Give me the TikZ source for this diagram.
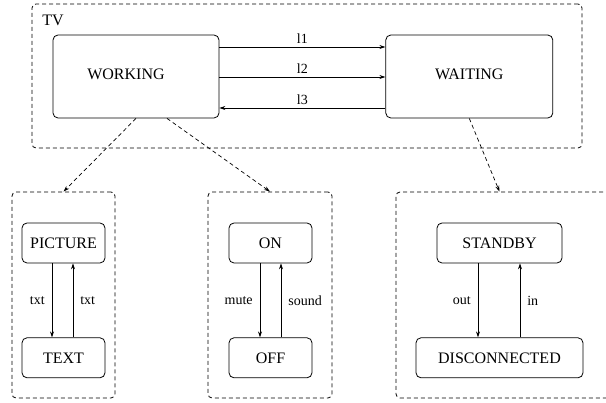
\documentclass[tikz,border=0pt]{standalone}
\usepackage{fontspec}
\setmainfont{Liberation Serif}
\usepackage{tikz}
\usetikzlibrary{positioning,arrows.meta}

\begin{document}
\begin{tikzpicture}[x=1pt,y=-1pt,auto,node distance=74pt,
	state/.style={draw,rounded corners=5pt,line width=0.8pt,minimum height=40pt,font=\rmfamily\fontsize{16}{19}\selectfont},
	group/.style={draw,dash pattern=on 4pt off 3pt,rounded corners=4pt,line width=0.8pt},
	trans/.style={-{Stealth[length=6pt,width=4pt]},line width=0.7pt},
	link/.style={trans,dash pattern=on 4pt off 3pt},
	lbl/.style={font=\rmfamily\fontsize{14}{16}\selectfont,inner xsep=7pt}]
					\clip (0,0) rectangle (606,403);
					
					% The outer state (ID=tv)
					\node[group,minimum width=550pt,minimum height=144pt] (tv) at (307,76) {};
					\node[font=\rmfamily\fontsize{16}{19}\selectfont] (tvname) at (53,20) {TV};
					
					\node[state,minimum width=166pt,minimum height=83pt] (working) at (136,76.5) {\raisebox{4.5pt}{WORKING}\hspace*{20pt}};
					\node[state,minimum width=167pt,minimum height=83pt] (waiting) [right=166pt of working] {\raisebox{4.5pt}{WAITING}};
					
					% Transitions between working and waiting
					\draw[trans] ([yshift=29.5pt]working.east) -- node[lbl,above] {l1} ([yshift=29.5pt]waiting.west);
					\draw[trans] ([yshift=-0.5pt]working.east) -- node[lbl,above] {l2} ([yshift=-0.5pt]waiting.west);
					\draw[trans] ([yshift=-31.5pt]waiting.west) -- node[lbl,above] {l3} ([yshift=-31.5pt]working.east);
					
					% Now the substates of working (ID=picgroup, ongroup)
					\node[group,minimum width=103pt,minimum height=206pt] (picgroup) at (63.5,295) {};
					\node[state,minimum width=83pt] (picture) at (63.5,243) {PICTURE};
					\node[state,minimum width=83pt] (text) [below=of picture] {TEXT};
					
					\node[group,minimum width=124pt,minimum height=206pt] (ongroup) at (270,295) {};
					\node[state,minimum width=83pt] (on) at (270.5,243) {ON};
					\node[state,minimum width=83pt] (off) [below=of on] {OFF};
					
					% Substates of waiting (ID=sbgroup), cut off at the right
					\node[group,minimum width=260pt,minimum height=206pt] (sbgroup) at (526,295) {};
					\node[state,minimum width=125pt] (standby) at (499.5,243) {STANDBY};
					\node[state,minimum width=167pt] (disconnected) [below=of standby] {DISCONNECTED};
					
					% Draw the inner transitions
					\draw[trans] ([xshift=-11.5pt]picture.south) -- node[lbl,swap] {txt} ([xshift=-11.5pt]text.north);
					\draw[trans] ([xshift=9.5pt]text.north) -- node[lbl,swap] {txt} ([xshift=9.5pt]picture.south);
					\draw[trans] ([xshift=-10.5pt]on.south) -- node[lbl,swap] {mute} ([xshift=-10.5pt]off.north);
					\draw[trans] ([xshift=10.5pt]off.north) -- node[lbl,swap] {sound} ([xshift=10.5pt]on.south);
					\draw[trans] ([xshift=-21.5pt]standby.south) -- node[lbl,swap] {out} ([xshift=-21.5pt]disconnected.north);
					\draw[trans] ([xshift=20.5pt]disconnected.north) -- node[lbl,swap] {in} ([xshift=20.5pt]standby.south);
					
					% Dashed links from a state to its substates
					\draw[link] (working.south) -- (picgroup.north);
					\draw[link] ([xshift=31pt]working.south) -- (ongroup.north);
					\draw[link] (waiting.south) -- (standby.north |- sbgroup.north);
				\end{tikzpicture}
\end{document}
